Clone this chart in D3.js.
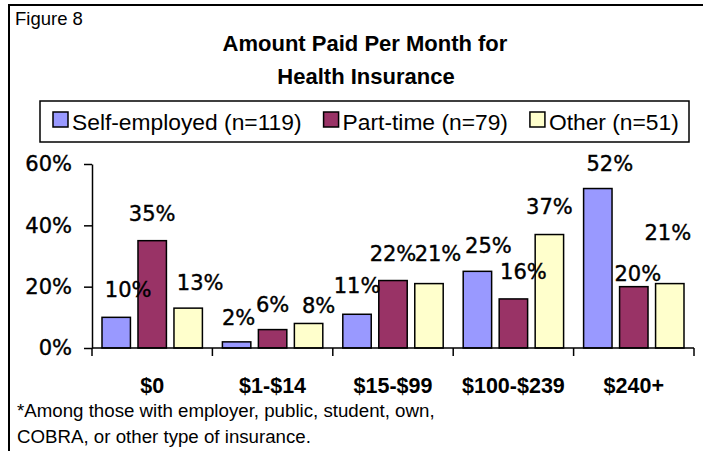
<!DOCTYPE html>
<html>
<head>
<meta charset="utf-8">
<script src="https://cdn.jsdelivr.net/npm/d3@7"></script>
<style>
  body { margin: 0; background: #fff; }
  svg { display: block; }
</style>
</head>
<body>
<div id="chart"></div>
<script>
const categories = ["$0", "$1-$14", "$15-$99", "$100-$239", "$240+"];
const seriesNames = ["Self-employed (n=119)", "Part-time (n=79)", "Other (n=51)"];
const selfEmployed = [0.10, 0.02, 0.11, 0.25, 0.52];
const partTime = [0.35, 0.06, 0.22, 0.16, 0.20];
const other = [0.13, 0.08, 0.21, 0.37, 0.21];
const yTicks = [0, 0.2, 0.4, 0.6];
const colors = ["#9999ff", "#993366", "#ffffcc"];

// hand placed label nudges [dx, gap above bar], per series then category
const labelNudge = [
  [[12, 20], [2, 17], [0, 21], [11, 18], [12, 18]],
  [[0, 20], [0, 18], [0, 20], [10, 20], [4, 6]],
  [[12, 18], [10, 10], [9, 23], [0, 21], [-2, 44]]
];

const seriesValues = [selfEmployed, partTime, other];

const width = 705, height = 451;
const plot = { left: 92, right: 694, top: 164, bottom: 348 };

const svg = d3.select("#chart").append("svg")
  .attr("width", width)
  .attr("height", height);

svg.append("rect").attr("width", width).attr("height", height).attr("fill", "#fff");

// frame (top and left only)
svg.append("path")
  .attr("d", `M9,${height} V5 H703`)
  .attr("fill", "none")
  .attr("stroke", "#000")
  .attr("stroke-width", 2);

svg.append("text")
  .attr("x", 15).attr("y", 25)
  .attr("font-family", "Liberation Sans, Arial, sans-serif")
  .attr("font-size", 18.5)
  .text("Figure 8");

const title = svg.append("text")
  .attr("text-anchor", "middle")
  .attr("font-family", "Liberation Sans, Arial, sans-serif")
  .attr("font-weight", "bold")
  .attr("font-size", 22);
title.append("tspan").attr("x", 365).attr("y", 51).text("Amount Paid Per Month for");
title.append("tspan").attr("x", 366).attr("y", 84).text("Health Insurance");

// legend
const legend = svg.append("g");
legend.append("rect")
  .attr("x", 40).attr("y", 101)
  .attr("width", 649).attr("height", 41)
  .attr("fill", "#fff")
  .attr("stroke", "#000")
  .attr("stroke-width", 1.5);

let lx = 53;
seriesNames.forEach((name, i) => {
  legend.append("rect")
    .attr("x", lx).attr("y", 112)
    .attr("width", 15).attr("height", 15)
    .attr("fill", colors[i])
    .attr("stroke", "#000")
    .attr("stroke-width", 1.5);
  const t = legend.append("text")
    .attr("x", lx + 19).attr("y", 130)
    .attr("font-family", "Liberation Sans, Arial, sans-serif")
    .attr("font-size", 22.8)
    .text(name);
  lx += 19 + t.node().getComputedTextLength() + 22;
});

// scales
const x0 = d3.scaleBand()
  .domain(categories)
  .range([plot.left, plot.right]);

const x1 = d3.scaleBand()
  .domain(d3.range(seriesNames.length))
  .range([10, x0.bandwidth() - 10])
  .paddingInner(0.21);

const y = d3.scaleLinear()
  .domain([0, 0.6])
  .range([plot.bottom, plot.top]);

// y axis
const yAxis = d3.axisLeft(y)
  .tickValues(yTicks)
  .tickFormat(d3.format(".0%"))
  .tickSize(8)
  .tickSizeOuter(0)
  .tickPadding(12);

const gy = svg.append("g")
  .attr("transform", `translate(${plot.left},0)`)
  .call(yAxis);
gy.selectAll("path, line").attr("stroke", "#000").attr("stroke-width", 1.5);
gy.selectAll("text")
  .attr("font-family", "DejaVu Sans, Verdana, sans-serif")
  .attr("font-size", 21)
  .attr("fill", "#000")
  .attr("stroke", "#000")
  .attr("stroke-width", 0.4);

// bars
const groups = svg.append("g")
  .selectAll("g")
  .data(categories)
  .join("g")
  .attr("transform", d => `translate(${x0(d)},0)`);

groups.selectAll("rect")
  .data((d, ci) => seriesValues.map((vals, si) => ({ si, ci, v: vals[ci] })))
  .join("rect")
  .attr("x", d => x1(d.si))
  .attr("y", d => y(d.v))
  .attr("width", x1.bandwidth())
  .attr("height", d => y(0) - y(d.v))
  .attr("fill", d => colors[d.si])
  .attr("stroke", "#000")
  .attr("stroke-width", 1.5);

groups.selectAll("text")
  .data((d, ci) => seriesValues.map((vals, si) => ({ si, ci, v: vals[ci] })))
  .join("text")
  .attr("x", d => x1(d.si) + x1.bandwidth() / 2 + labelNudge[d.si][d.ci][0])
  .attr("y", d => y(d.v) - labelNudge[d.si][d.ci][1])
  .attr("text-anchor", "middle")
  .attr("font-family", "DejaVu Sans, Verdana, sans-serif")
  .attr("font-size", 21)
  .attr("stroke", "#000")
  .attr("stroke-width", 0.4)
  .text(d => d3.format(".0%")(d.v));

// x axis
const gx = svg.append("g")
  .attr("transform", `translate(0,${plot.bottom})`);

gx.append("line")
  .attr("x1", plot.left).attr("x2", plot.right)
  .attr("stroke", "#000").attr("stroke-width", 1.5);

gx.selectAll(".tick")
  .data(d3.range(categories.length + 1))
  .join("line")
  .attr("x1", i => plot.left + i * x0.step())
  .attr("x2", i => plot.left + i * x0.step())
  .attr("y1", 0).attr("y2", 8)
  .attr("stroke", "#000").attr("stroke-width", 1.5);

gx.selectAll("text")
  .data(categories)
  .join("text")
  .attr("x", d => x0(d) + x0.bandwidth() / 2)
  .attr("y", 45)
  .attr("text-anchor", "middle")
  .attr("font-family", "Liberation Sans, Arial, sans-serif")
  .attr("font-weight", "bold")
  .attr("font-size", 21.5)
  .text(d => d);

// footnote
const foot = svg.append("text")
  .attr("font-family", "Liberation Sans, Arial, sans-serif")
  .attr("font-size", 18.7);
foot.append("tspan").attr("x", 17).attr("y", 417)
  .text("*Among those with employer, public, student, own,");
foot.append("tspan").attr("x", 17).attr("y", 443)
  .text("COBRA, or other type of insurance.");
</script>
</body>
</html>
